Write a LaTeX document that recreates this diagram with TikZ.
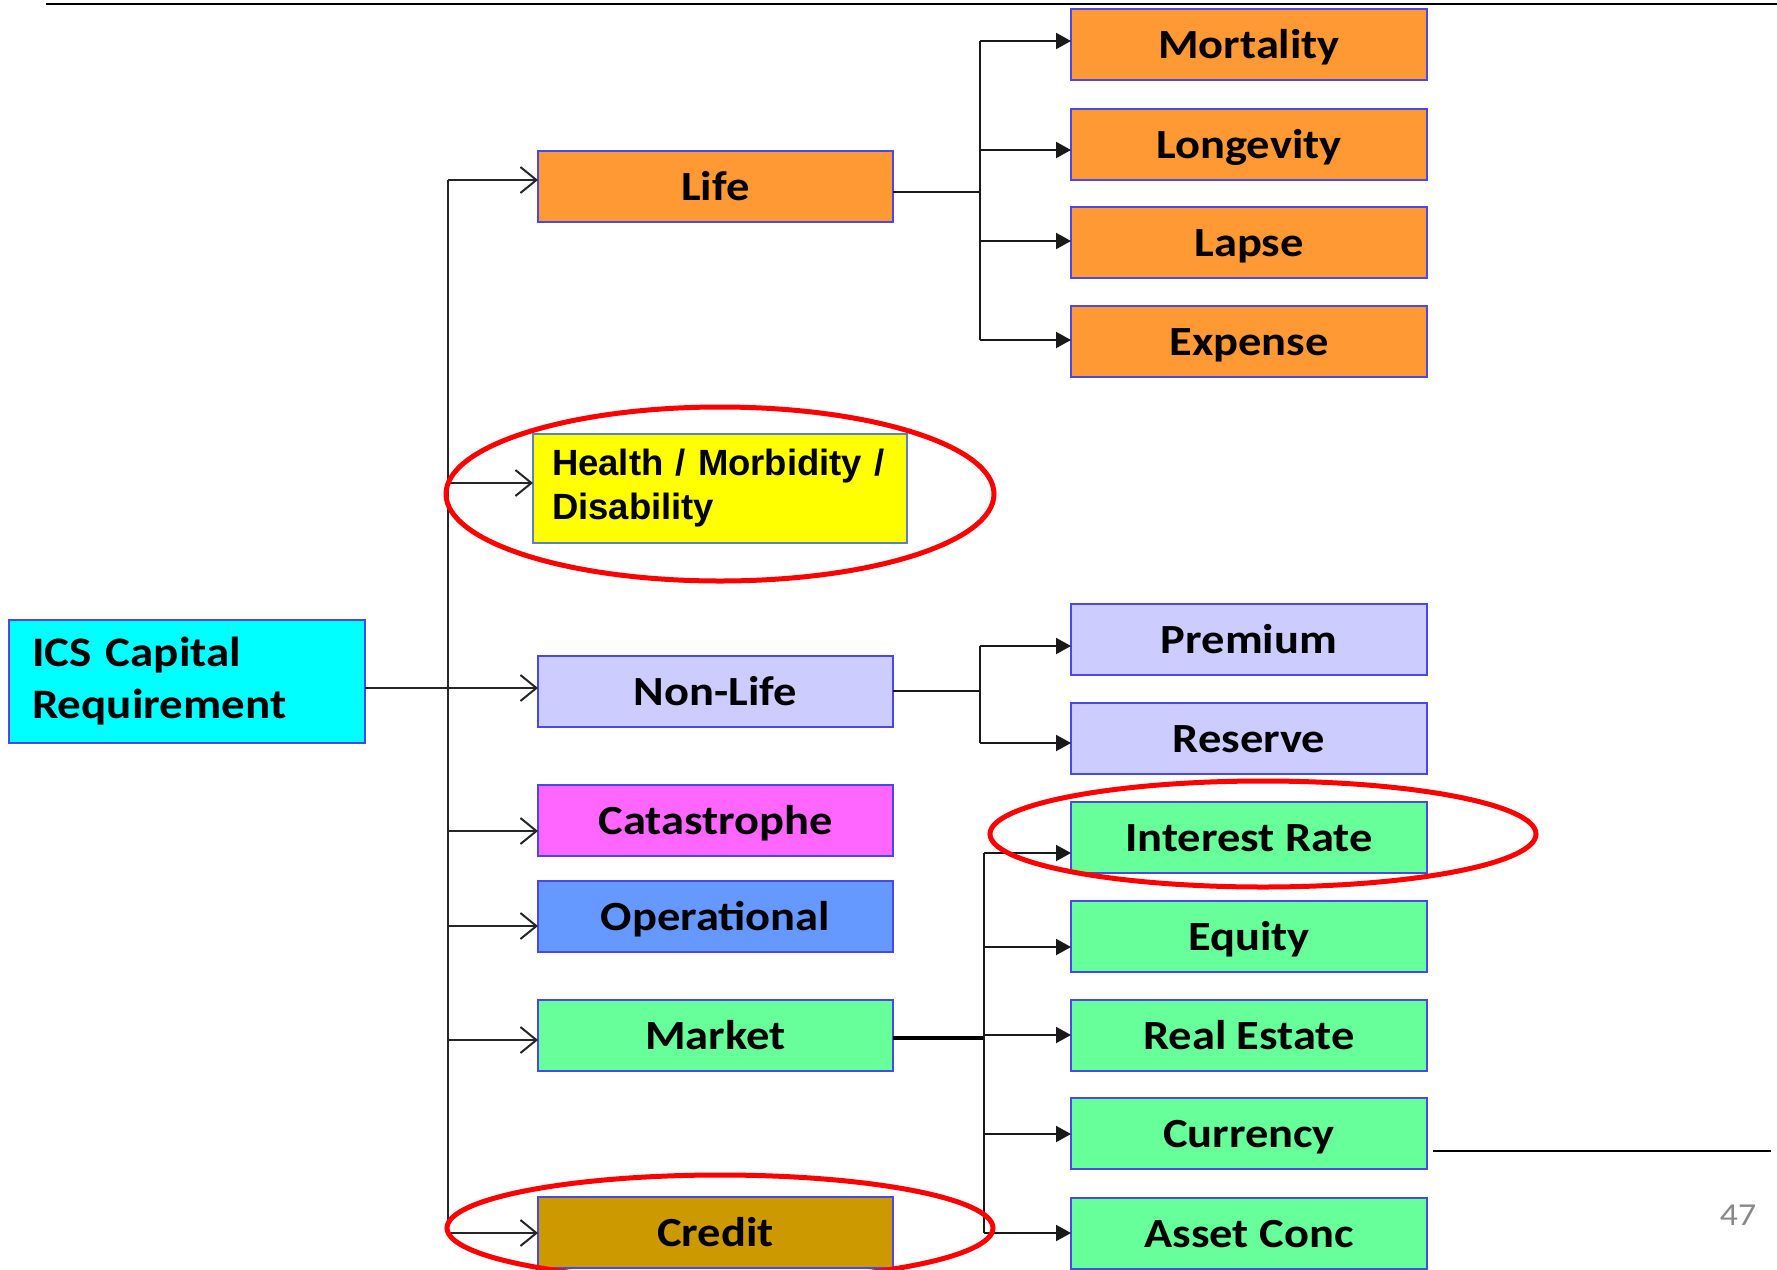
\documentclass[tikz,border=0pt]{standalone}
\usepackage{fontspec}
\setmainfont{Carlito}[FakeStretch=1.12]
\newfontfamily\arialfont{Liberation Sans}
\usetikzlibrary{arrows.meta}

\definecolor{cOrange}{RGB}{255,153,51}
\definecolor{cYellow}{RGB}{255,255,0}
\definecolor{cLav}{RGB}{204,204,255}
\definecolor{cMag}{RGB}{255,102,255}
\definecolor{cBlue}{RGB}{102,153,255}
\definecolor{cGreen}{RGB}{102,255,153}
\definecolor{cGold}{RGB}{204,153,0}
\definecolor{cCyan}{RGB}{0,255,255}
\definecolor{edgeblue}{RGB}{72,72,235}
\definecolor{steel}{RGB}{90,130,190}
\definecolor{pgrey}{RGB}{137,137,137}

\tikzset{
  frame/.style={draw=edgeblue, line width=2pt, anchor=north west, inner sep=0pt, outer sep=0pt},
  cal/.style={font=\fontsize{41.5}{50}\selectfont\bfseries, text height=27pt, text depth=0pt},
  midbox/.style={frame, cal, minimum width=355pt, minimum height=71pt},
  leafbox/.style={frame, cal, minimum width=356pt, minimum height=71pt},
  feed/.style={line width=2pt, draw=black!85,
    -{Straight Barb[length=16pt,width=26pt,line width=2pt]}},
  branch/.style={line width=2pt, draw=black!90, -{Triangle[length=15pt,width=16pt]}},
  stem/.style={line width=2.5pt, draw=black!90},
  ring/.style={draw=red, line width=5pt},
}

\begin{document}
\begin{tikzpicture}[x=1pt,y=-1pt]
\useasboundingbox (0,0) rectangle (1777,1269);

% header rule
\draw[line width=2.5pt] (46,4) -- (1777,4);

% root
\node[frame, fill=cCyan, minimum width=356pt, minimum height=123pt, align=left,
      text width=310pt, font=\fontsize{42}{52}\selectfont\bfseries]
      (ics) at (9,620) {ICS Capital\\Requirement};

% risk modules
\node[midbox, fill=cOrange] (life) at (538,151) {Life};
\node[frame, fill=cYellow, draw=steel, line width=1.5pt, minimum width=374pt,
      minimum height=109pt, align=left, text width=336pt,
      font=\arialfont\fontsize{36.5}{44}\selectfont\bfseries]
      (health) at (533,434) {Health / Morbidity /\\Disability};
\node[midbox, fill=cLav] (nonlife) at (538,656) {Non-Life};
\node[midbox, fill=cMag] (cat) at (538,785) {Catastrophe};
\node[midbox, fill=cBlue] (oper) at (538,881) {Operational};
\node[midbox, fill=cGreen] (market) at (538,1000) {Market};
\node[midbox, fill=cGold] (credit) at (538,1197) {Credit};

% sub-risks
\node[leafbox, fill=cOrange] (mort) at (1071,9) {Mortality};
\node[leafbox, fill=cOrange] (longev) at (1071,109) {Longevity};
\node[leafbox, fill=cOrange] (lapse) at (1071,207) {Lapse};
\node[leafbox, fill=cOrange] (expense) at (1071,306) {Expense};
\node[leafbox, fill=cLav] (premium) at (1071,604) {Premium};
\node[leafbox, fill=cLav] (reserve) at (1071,703) {Reserve};
\node[leafbox, fill=cGreen] (irate) at (1071,802) {Interest Rate};
\node[leafbox, fill=cGreen] (equity) at (1071,901) {Equity};
\node[leafbox, fill=cGreen] (estate) at (1071,1000) {Real Estate};
\node[leafbox, fill=cGreen] (currency) at (1071,1098) {Currency};
\node[leafbox, fill=cGreen] (conc) at (1071,1198) {Asset Conc};

% main trunk
\coordinate (tLife) at (448,180);
\coordinate (tHealth) at (448,483);
\coordinate (tNon) at (448,688);
\coordinate (tCat) at (448,831);
\coordinate (tOper) at (448,926);
\coordinate (tMarket) at (448,1040);
\coordinate (tCredit) at (448,1233);
\draw[line width=2pt, draw=black!85] (tLife) -- (tCredit);
\draw[feed] (tLife) -- (tLife -| life.west);
\draw[feed] (tHealth) -- (tHealth -| health.west);
\draw[feed] (ics.east |- tNon) -- (tNon -| nonlife.west);
\draw[feed] (tCat) -- (tCat -| cat.west);
\draw[feed] (tOper) -- (tOper -| oper.west);
\draw[feed] (tMarket) -- (tMarket -| market.west);
\draw[feed] (tCredit) -- (tCredit -| credit.west);

% life branch
\coordinate (lJoin) at (980,192);
\coordinate (l1) at (980,41);
\coordinate (l2) at (980,150);
\coordinate (l3) at (980,241);
\coordinate (l4) at (980,340);
\draw[stem] (life.east |- lJoin) -- (lJoin);
\draw[stem] (l1) -- (l4);
\draw[branch] (l1) -- (l1 -| mort.west);
\draw[branch] (l2) -- (l2 -| longev.west);
\draw[branch] (l3) -- (l3 -| lapse.west);
\draw[branch] (l4) -- (l4 -| expense.west);

% non-life branch
\coordinate (nJoin) at (980,691);
\coordinate (n1) at (980,646);
\coordinate (n2) at (980,743);
\draw[stem] (nonlife.east |- nJoin) -- (nJoin);
\draw[stem] (n1) -- (n2);
\draw[branch] (n1) -- (n1 -| premium.west);
\draw[branch] (n2) -- (n2 -| reserve.west);

% market branch
\coordinate (mJoin) at (984,1038);
\coordinate (m1) at (984,853);
\coordinate (m2) at (984,947);
\coordinate (m3) at (984,1035);
\coordinate (m4) at (984,1134);
\coordinate (m5) at (984,1233);
\draw[line width=4pt] (market.east |- mJoin) -- (mJoin);
\draw[stem] (m1) -- (m5);
\draw[branch] (m1) -- (m1 -| irate.west);
\draw[branch] (m2) -- (m2 -| equity.west);
\draw[branch] (m3) -- (m3 -| estate.west);
\draw[branch] (m4) -- (m4 -| currency.west);
\draw[branch] (m5) -- (m5 -| conc.west);

% highlight rings
\draw[ring] (720,494) ellipse [x radius=274pt, y radius=87pt];
\draw[ring] (1263,834) ellipse [x radius=273pt, y radius=53pt];
\draw[ring] (720,1228) ellipse [x radius=273pt, y radius=53pt];

% footer rule and page number
\draw[line width=1.5pt] (currency.east |- 0,1151) ++(6,0) -- (1771,1151);
\node[anchor=base, font=\fontsize{32}{32}\selectfont, text=pgrey, inner sep=0pt]
      (pagenum) at (1738,1225) {47};
\end{tikzpicture}
\end{document}
